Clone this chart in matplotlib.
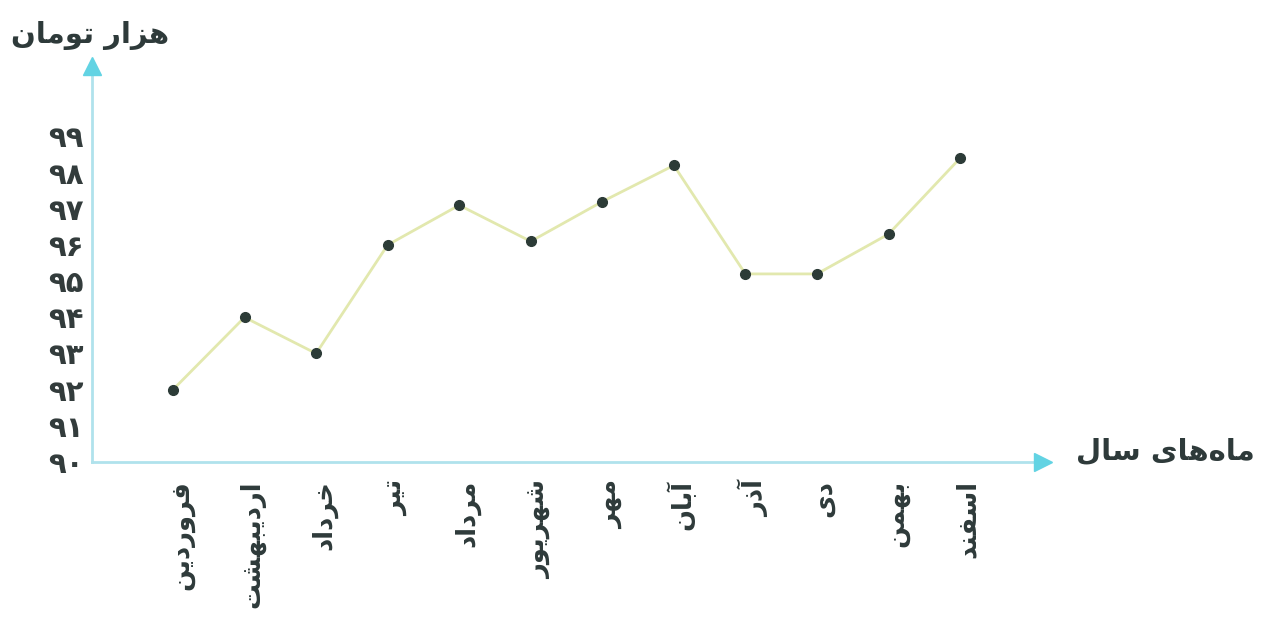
import matplotlib
matplotlib.use("Agg")
import matplotlib.pyplot as plt
from matplotlib.transforms import ScaledTranslation

# ---------------- data ----------------
months = ["فروردین", "اردیبهشت", "خرداد", "تیر", "مرداد", "شهریور",
          "مهر", "آبان", "آذر", "دی", "بهمن", "اسفند"]
prices = [92.0, 94.0, 93.0, 96.0, 97.1, 96.1, 97.2, 98.2, 95.2, 95.2, 96.3, 98.4]
y_ticks = [90, 91, 92, 93, 94, 95, 96, 97, 98, 99]
y_tick_labels = ["۹۰", "۹۱", "۹۲", "۹۳", "۹۴", "۹۵", "۹۶", "۹۷", "۹۸", "۹۹"]
y_title = "هزار تومان"
x_title = "ماه‌های سال"

# ------------- minimal Arabic/Persian shaping (matplotlib has no bidi) -------------
FORMS = {  # isolated, final, initial, medial
    '\u0622': ('\uFE81', '\uFE82', None, None),
    '\u0627': ('\uFE8D', '\uFE8E', None, None),
    '\u0628': ('\uFE8F', '\uFE90', '\uFE91', '\uFE92'),
    '\u062A': ('\uFE95', '\uFE96', '\uFE97', '\uFE98'),
    '\u062E': ('\uFEA5', '\uFEA6', '\uFEA7', '\uFEA8'),
    '\u062F': ('\uFEA9', '\uFEAA', None, None),
    '\u0630': ('\uFEAB', '\uFEAC', None, None),
    '\u0631': ('\uFEAD', '\uFEAE', None, None),
    '\u0632': ('\uFEAF', '\uFEB0', None, None),
    '\u0633': ('\uFEB1', '\uFEB2', '\uFEB3', '\uFEB4'),
    '\u0634': ('\uFEB5', '\uFEB6', '\uFEB7', '\uFEB8'),
    '\u0641': ('\uFED1', '\uFED2', '\uFED3', '\uFED4'),
    '\u0644': ('\uFEDD', '\uFEDE', '\uFEDF', '\uFEE0'),
    '\u0645': ('\uFEE1', '\uFEE2', '\uFEE3', '\uFEE4'),
    '\u0646': ('\uFEE5', '\uFEE6', '\uFEE7', '\uFEE8'),
    '\u0647': ('\uFEE9', '\uFEEA', '\uFEEB', '\uFEEC'),
    '\u0648': ('\uFEED', '\uFEEE', None, None),
    '\u06CC': ('\uFEEF', '\uFEF0', '\uFEF3', '\uFEF4'),
}


def dual(c):
    return c in FORMS and FORMS[c][2] is not None


def shape(text):
    out = []
    n = len(text)
    for i, c in enumerate(text):
        if c not in FORMS:
            if c != '\u200c':
                out.append(c)
            continue
        prev_c = text[i - 1] if i > 0 else ''
        next_c = text[i + 1] if i < n - 1 else ''
        jp = dual(prev_c)
        jn = dual(c) and next_c in FORMS
        iso, fin, ini, med = FORMS[c]
        if jp and jn:
            out.append(med)
        elif jp:
            out.append(fin)
        elif jn:
            out.append(ini)
        else:
            out.append(iso)
    return ''.join(reversed(out))


# ---------------- figure ----------------
W, H = 1278, 630
fig = plt.figure(figsize=(W / 100, H / 100), dpi=100)
fig.patch.set_facecolor('white')

left_px, right_px, top_px, bottom_px = 92, 1043, 66, 462
ax = fig.add_axes([left_px / W, 1 - bottom_px / H,
                   (right_px - left_px) / W, (bottom_px - top_px) / H])
ax.set_facecolor('none')

x = list(range(len(months)))
ax.plot(x, prices, color='#e2e8ae', lw=2.0, zorder=3, solid_capstyle='round')
ax.plot(x, prices, linestyle='none', marker='o', ms=7,
        mfc='#2c3b37', mec='#2c3b37', zorder=4)

# scales: first month at x=173px, spacing ~71.5px; 90 at 462px, 99 at 136.5px
step = 71.55
ax.set_xlim(-(173 - left_px) / step, (right_px - 173) / step)
unit = 36.17
ax.set_ylim(90, 90 + (bottom_px - top_px) / unit)

axis_col = '#b0e2ec'
for s in ['top', 'right']:
    ax.spines[s].set_visible(False)
for s in ['left', 'bottom']:
    ax.spines[s].set_color(axis_col)
    ax.spines[s].set_linewidth(2.0)

ax.plot([0], [1], marker='^', ms=13, color='#62d3e3', transform=ax.transAxes,
        clip_on=False, zorder=5)
ax.plot([1], [0], marker='>', ms=13, color='#62d3e3', transform=ax.transAxes,
        clip_on=False, zorder=5)

ax.set_yticks(y_ticks)
ax.set_yticklabels(y_tick_labels, fontsize=21, fontweight='bold',
                   color='#333c3c', family='DejaVu Sans')
ax.set_xticks(x)
ax.set_xticklabels([shape(m) for m in months], rotation=90, fontsize=18.5,
                   fontweight='bold', color='#2e3a3a', family='DejaVu Sans')
ax.tick_params(axis='both', length=0)
ax.tick_params(axis='y', pad=6)
ax.tick_params(axis='x', pad=13)
for lbl in ax.get_xticklabels():
    lbl.set_transform(lbl.get_transform() +
                      ScaledTranslation(8 / 100, 0, fig.dpi_scale_trans))

fig.text(90 / W, 1 - 35 / H, shape(y_title), fontsize=21, fontweight='bold',
         color='#2e3a3a', ha='center', va='center', family='DejaVu Sans')
fig.text(1165 / W, 1 - 452 / H, shape(x_title), fontsize=21, fontweight='bold',
         color='#2e3a3a', ha='center', va='center', family='DejaVu Sans')

fig.savefig('out.png', dpi=100, facecolor='white')
